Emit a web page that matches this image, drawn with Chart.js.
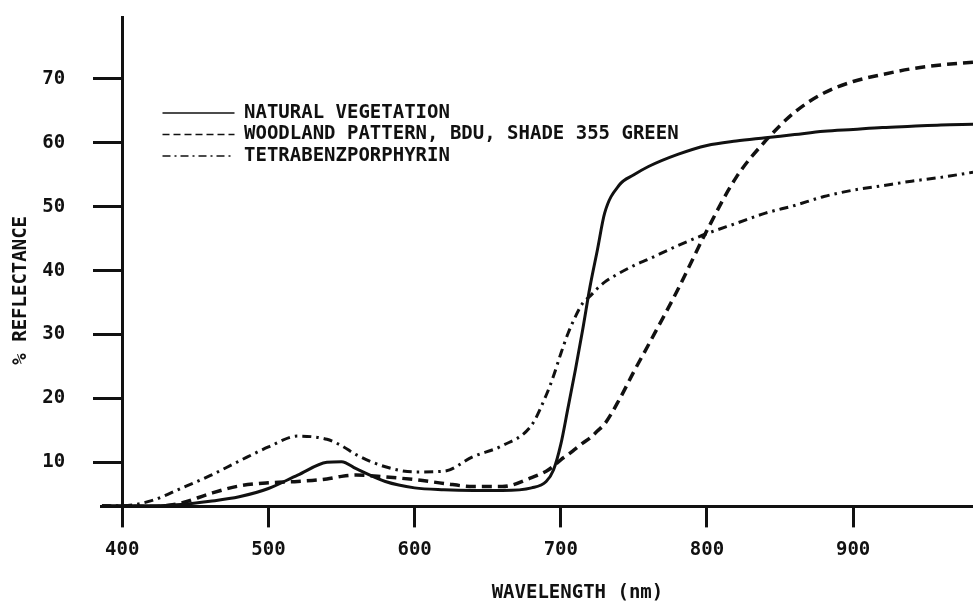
<!DOCTYPE html>
<html>
<head>
<meta charset="utf-8">
<script src="https://cdn.jsdelivr.net/npm/chart.js@4/dist/chart.umd.min.js"></script>
<style>
  html, body { margin: 0; padding: 0; background: #fff; }
  #wrap { width: 973px; height: 604px; }
</style>
</head>
<body>
<div id="wrap"><canvas id="chart"></canvas></div>
<script>
// wavelength grid (nm) shared by all three curves
const wavelengths = [386, 400, 420, 440, 460, 480, 500, 520, 540, 550, 560, 580, 600, 620, 640, 660,
  680, 690, 695, 700, 705, 710, 715, 720, 725, 730, 740, 750, 760, 780, 800, 820, 840, 860, 880,
  900, 920, 940, 960, 982];

// % reflectance
const naturalVegetation = [3.2, 3.2, 3.2, 3.4, 3.9, 4.6, 5.9, 8.0, 10.0, 10.1, 9.0, 7.0, 6.0, 5.7, 5.6, 5.6,
  6.0, 7.0, 8.8, 12.8, 18.6, 24.5, 30.8, 37.5, 43.2, 49.0, 53.4, 55.0, 56.3, 58.2, 59.6, 60.3, 60.8, 61.3, 61.8,
  62.1, 62.4, 62.6, 62.8, 62.9];
const woodlandPattern = [3.1, 3.1, 3.1, 3.6, 5.1, 6.3, 6.8, 7.0, 7.4, 7.8, 8.0, 7.7, 7.3, 6.7, 6.2, 6.2,
  7.6, 8.6, 9.4, 10.4, 11.2, 12.1, 13.0, 13.8, 14.9, 16.0, 19.8, 24.2, 28.4, 37.0, 46.3, 54.6, 60.3, 64.8, 67.8,
  69.6, 70.7, 71.6, 72.2, 72.6];
const tetrabenzporphyrin = [3.2, 3.2, 4.0, 5.9, 7.9, 10.2, 12.4, 14.1, 13.6, 12.6, 11.2, 9.3, 8.5, 8.6, 10.9, 12.6,
  15.8, 20.5, 23.5, 27.0, 30.2, 32.8, 34.9, 36.0, 37.2, 38.2, 39.6, 40.8, 41.8, 43.9, 45.8, 47.4, 49.0, 50.2, 51.6,
  52.6, 53.3, 54.0, 54.6, 55.4];

const seriesNames = ['NATURAL VEGETATION', 'WOODLAND PATTERN, BDU, SHADE 355 GREEN', 'TETRABENZPORPHYRIN'];

const xTicks = [400, 500, 600, 700, 800, 900];
const yTicks = [10, 20, 30, 40, 50, 60, 70];

const ink = '#111';
Chart.defaults.font.family = "'DejaVu Sans Mono', monospace";
Chart.defaults.font.size = 19;
Chart.defaults.font.weight = 'bold';
Chart.defaults.color = ink;

const toPoints = (ys) => wavelengths.map((x, i) => ({ x, y: ys[i] }));

const legendDash = [[], [7, 4], [8, 4, 2, 4]];

// move the built-in legend to its spot inside the plot
const placeLegend = {
  id: 'placeLegend',
  afterLayout(chart) {
    const lg = chart.legend;
    if (!lg) return;
    lg.left = 160;
    lg.top = 101;
    lg.right = lg.left + 600;
    lg.bottom = lg.top + 200;
  },
};

const ctx = document.getElementById('chart').getContext('2d');
new Chart(ctx, {
  type: 'line',
  data: {
    datasets: [
      {
        label: seriesNames[0],
        data: toPoints(naturalVegetation),
        borderColor: ink,
        borderWidth: 3,
      },
      {
        label: seriesNames[1],
        data: toPoints(woodlandPattern),
        borderColor: ink,
        borderWidth: 3.5,
        borderDash: [10, 6],
      },
      {
        label: seriesNames[2],
        data: toPoints(tetrabenzporphyrin),
        borderColor: ink,
        borderWidth: 3,
        borderDash: [9, 5, 2.5, 5],
      },
    ],
  },
  options: {
    responsive: true,
    maintainAspectRatio: false,
    animation: false,
    layout: { padding: { left: 0, right: 0, top: 17, bottom: 0 } },
    elements: {
      point: { radius: 0 },
      line: { cubicInterpolationMode: 'monotone', fill: false },
    },
    plugins: {
      tooltip: { enabled: false },
      legend: {
        position: 'chartArea',
        align: 'start',
        labels: {
          usePointStyle: true,
          pointStyle: 'line',
          pointStyleWidth: 72,
          padding: 2.5,
          color: ink,
          generateLabels(chart) {
            const items = Chart.defaults.plugins.legend.labels.generateLabels(chart);
            return items.map((it, i) => ({ ...it, lineWidth: 1.6, lineDash: legendDash[i] }));
          },
        },
      },
    },
    scales: {
      x: {
        type: 'linear',
        min: 386,
        max: 982,
        afterBuildTicks: (s) => { s.ticks = xTicks.map(v => ({ value: v })); },
        ticks: { padding: 11, callback: (v) => String(v) },
        grid: { drawOnChartArea: false, tickLength: 21, lineWidth: 3, color: ink },
        border: { display: true, width: 3, color: ink },
        title: {
          display: true,
          text: '       WAVELENGTH (nm)',
          padding: { top: 9, bottom: 0 },
        },
      },
      y: {
        type: 'linear',
        position: { x: 400 },
        min: 3.1,
        max: 79.7,
        afterBuildTicks: (s) => { s.ticks = yTicks.map(v => ({ value: v })); },
        afterFit: (s) => { s.paddingTop = 0; s.paddingBottom = 0; },
        // labels sit right-aligned on the axis line, so pad them away from the tick marks
        ticks: { callback: (v) => v + '     ' },
        grid: { drawOnChartArea: false, tickLength: 28, lineWidth: 3, color: ink },
        border: { display: true, width: 3, color: ink },
      },
      yTitle: {
        type: 'linear',
        position: 'left',
        min: 3.1,
        max: 79.7,
        ticks: { display: false },
        grid: { display: false, drawTicks: false },
        border: { display: false },
        title: {
          display: true,
          text: '% REFLECTANCE     ',
          padding: { top: 10, bottom: 69 },
        },
      },
    },
  },
  plugins: [placeLegend],
});
</script>
</body>
</html>
